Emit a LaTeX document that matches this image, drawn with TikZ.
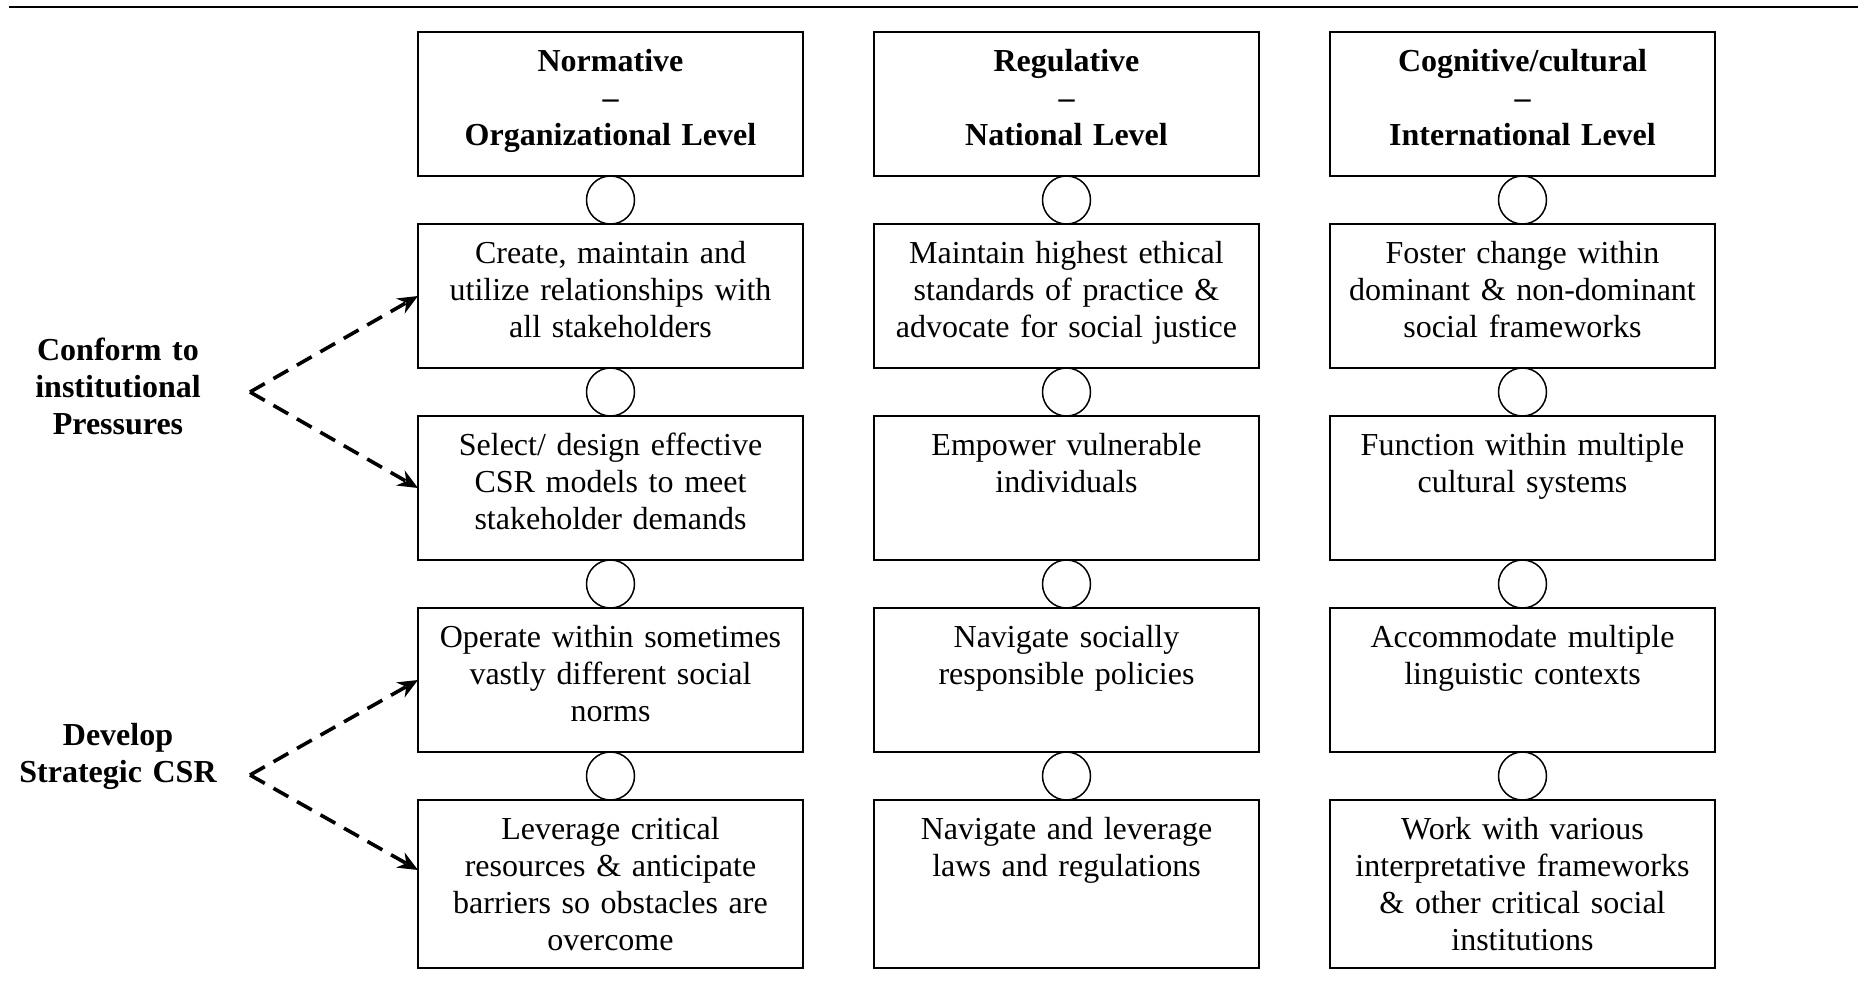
\documentclass[tikz,border=0pt]{standalone}
\usepackage{fontspec}
\setmainfont{Liberation Serif}
\usetikzlibrary{arrows.meta,calc}
\begin{document}
\begin{tikzpicture}[x=0.5pt,y=-0.5pt,
  cellbox/.style={draw, line width=0.85pt, minimum width=192.5pt, minimum height=72pt, inner sep=0pt, outer sep=0pt},
  tallbox/.style={cellbox, minimum height=84pt},
  joint/.style={draw, circle, line width=0.75pt, minimum size=24pt, inner sep=0pt, outer sep=0pt},
  celltext/.style={anchor=north, yshift=-6.8pt, inner sep=0pt, text width=190pt, align=center, font=\fontsize{16}{18.5}\selectfont},
  headtext/.style={celltext, font=\fontsize{16}{18.5}\selectfont\bfseries},
  sidetext/.style={anchor=north, inner sep=0pt, text width=120pt, align=center, font=\fontsize{16}{18.5}\selectfont\bfseries},
  push/.style={dash pattern=on 8.5pt off 5pt, line width=1.8pt, -{Stealth[length=10pt,width=8.5pt]}}
]
\useasboundingbox (0,0) rectangle (1858,985);

% top rule
\coordinate (ruleL) at (9,7);
\coordinate (ruleR) at (1858,7);
\draw[line width=1pt] (ruleL) -- (ruleR);

% ---------- boxes ----------
% column 1
\node[cellbox] (b01) at (610.5,104) {};
\node[cellbox] (b11) at (610.5,296) {};
\node[cellbox] (b21) at (610.5,488) {};
\node[cellbox] (b31) at (610.5,680) {};
\node[tallbox] (b41) at (610.5,884) {};
% column 2
\node[cellbox] (b02) at (1066.5,104) {};
\node[cellbox] (b12) at (1066.5,296) {};
\node[cellbox] (b22) at (1066.5,488) {};
\node[cellbox] (b32) at (1066.5,680) {};
\node[tallbox] (b42) at (1066.5,884) {};
% column 3
\node[cellbox] (b03) at (1522.5,104) {};
\node[cellbox] (b13) at (1522.5,296) {};
\node[cellbox] (b23) at (1522.5,488) {};
\node[cellbox] (b33) at (1522.5,680) {};
\node[tallbox] (b43) at (1522.5,884) {};

% ---------- circles ----------
\node[joint] (j11) at (610.5,200) {};
\node[joint] (j21) at (610.5,392) {};
\node[joint] (j31) at (610.5,584) {};
\node[joint] (j41) at (610.5,776) {};
\node[joint] (j12) at (1066.5,200) {};
\node[joint] (j22) at (1066.5,392) {};
\node[joint] (j32) at (1066.5,584) {};
\node[joint] (j42) at (1066.5,776) {};
\node[joint] (j13) at (1522.5,200) {};
\node[joint] (j23) at (1522.5,392) {};
\node[joint] (j33) at (1522.5,584) {};
\node[joint] (j43) at (1522.5,776) {};

% ---------- texts ----------
\node[headtext] (t01) at (b01.north) {\strut Normative\\–\\Organizational Level};
\node[headtext] (t02) at (b02.north) {\strut Regulative\\–\\National Level};
\node[headtext] (t03) at (b03.north) {\strut Cognitive/cultural\\–\\International Level};

\node[celltext] (t11) at (b11.north) {\strut Create, maintain and\\utilize relationships with\\all stakeholders};
\node[celltext] (t21) at (b21.north) {\strut Select/ design effective\\CSR models to meet\\stakeholder demands};
\node[celltext] (t31) at (b31.north) {\strut Operate within sometimes\\vastly different social\\norms};
\node[celltext] (t41) at (b41.north) {\strut Leverage critical\\resources \& anticipate\\barriers so obstacles are\\overcome};

\node[celltext] (t12) at (b12.north) {\strut Maintain highest ethical\\standards of practice \&\\advocate for social justice};
\node[celltext] (t22) at (b22.north) {\strut Empower vulnerable\\individuals};
\node[celltext] (t32) at (b32.north) {\strut Navigate socially\\responsible policies};
\node[celltext] (t42) at (b42.north) {\strut Navigate and leverage\\laws and regulations};

\node[celltext] (t13) at (b13.north) {\strut Foster change within\\dominant \& non-dominant\\social frameworks};
\node[celltext] (t23) at (b23.north) {\strut Function within multiple\\cultural systems};
\node[celltext] (t33) at (b33.north) {\strut Accommodate multiple\\linguistic contexts};
\node[celltext] (t43) at (b43.north) {\strut Work with various\\interpretative frameworks\\\& other critical social\\institutions};

% ---------- side labels ----------
\node[sidetext] (conform) at (118,334) {\strut Conform to\\institutional\\Pressures};
\node[sidetext] (develop) at (118,719) {\strut Develop\\Strategic CSR};

% ---------- dashed arrows ----------
\coordinate (apex1) at (250,392);
\coordinate (apex2) at (250,775);
\coordinate (end41) at ($(b41.west)+(0,-14)$);
\draw[push] (apex1) -- (b11.west);
\draw[push] (apex1) -- (b21.west);
\draw[push] (apex2) -- (b31.west);
\draw[push] (apex2) -- (end41);
\end{tikzpicture}
\end{document}
